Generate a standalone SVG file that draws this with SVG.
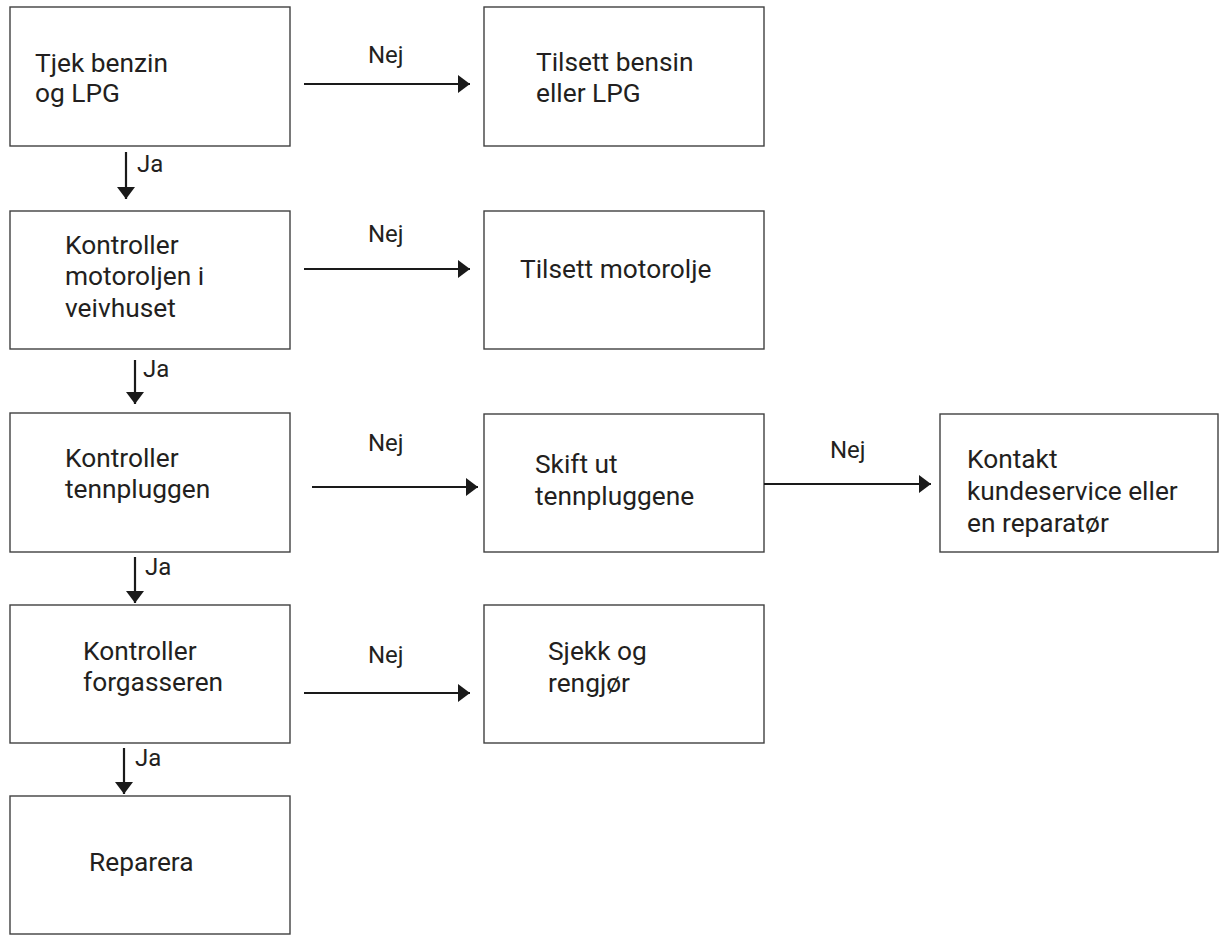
<svg xmlns="http://www.w3.org/2000/svg" width="1219" height="935" viewBox="0 0 1219 935">
<style>
.box{fill:#fff;stroke:#404040;stroke-width:1.4}
.t{font-family:Roboto,"Liberation Sans",sans-serif;font-size:26.3px;fill:#231f20}
.lbl{font-family:Roboto,"Liberation Sans",sans-serif;font-size:24px;fill:#231f20}
.ln{stroke:#1a1a1a;stroke-width:2.2;fill:none}
</style>
<defs>
<marker id="ah" markerUnits="userSpaceOnUse" markerWidth="12" markerHeight="18" refX="12" refY="9" orient="auto">
<path d="M0,0 L12,9 L0,18 Z" fill="#1a1a1a"/>
</marker>
</defs>
<rect width="1219" height="935" fill="#fff"/>
<g id="n1"><rect class="box" x="10" y="7" width="280" height="139"/><text class="t" x="35" y="72">Tjek benzin</text><text class="t" x="35" y="102">og LPG</text></g>
<g id="n2"><rect class="box" x="10" y="211" width="280" height="138"/><text class="t" x="65" y="254">Kontroller</text><text class="t" x="65" y="285">motoroljen i</text><text class="t" x="65" y="317">veivhuset</text></g>
<g id="n3"><rect class="box" x="10" y="413" width="280" height="139"/><text class="t" x="65" y="467">Kontroller</text><text class="t" x="65" y="498">tennpluggen</text></g>
<g id="n4"><rect class="box" x="10" y="605" width="280" height="138"/><text class="t" x="83" y="660">Kontroller</text><text class="t" x="83" y="691">forgasseren</text></g>
<g id="n5"><rect class="box" x="10" y="796" width="280" height="138"/><text class="t" x="89" y="871">Reparera</text></g>
<g id="r1"><rect class="box" x="484" y="7" width="280" height="139"/><text class="t" x="536" y="71">Tilsett bensin</text><text class="t" x="536" y="102">eller LPG</text></g>
<g id="r2"><rect class="box" x="484" y="211" width="280" height="138"/><text class="t" x="520" y="278">Tilsett motorolje</text></g>
<g id="r3"><rect class="box" x="484" y="414" width="280" height="138"/><text class="t" x="535" y="473">Skift ut</text><text class="t" x="535" y="505">tennpluggene</text></g>
<g id="r4"><rect class="box" x="940" y="414" width="278" height="138"/><text class="t" x="967" y="468">Kontakt</text><text class="t" x="967" y="500">kundeservice eller</text><text class="t" x="967" y="532">en reparatør</text></g>
<g id="r5"><rect class="box" x="484" y="605" width="280" height="138"/><text class="t" x="548" y="660">Sjekk og</text><text class="t" x="548" y="692">rengjør</text></g>
<g id="connectors">
<line class="ln" x1="304" y1="84" x2="470" y2="84" marker-end="url(#ah)"/>
<line class="ln" x1="304" y1="269" x2="470" y2="269" marker-end="url(#ah)"/>
<line class="ln" x1="312" y1="487" x2="478" y2="487" marker-end="url(#ah)"/>
<line class="ln" x1="764" y1="484" x2="931" y2="484" marker-end="url(#ah)"/>
<line class="ln" x1="304" y1="693" x2="470" y2="693" marker-end="url(#ah)"/>
<line class="ln" x1="126" y1="152" x2="126" y2="199" marker-end="url(#ah)"/>
<line class="ln" x1="135" y1="360" x2="135" y2="404" marker-end="url(#ah)"/>
<line class="ln" x1="135" y1="557" x2="135" y2="603" marker-end="url(#ah)"/>
<line class="ln" x1="124" y1="748" x2="124" y2="794" marker-end="url(#ah)"/>
<text class="lbl" x="368" y="63">Nej</text>
<text class="lbl" x="368" y="242">Nej</text>
<text class="lbl" x="368" y="451">Nej</text>
<text class="lbl" x="830" y="458">Nej</text>
<text class="lbl" x="368" y="663">Nej</text>
<text class="lbl" x="137" y="172">Ja</text>
<text class="lbl" x="143" y="377">Ja</text>
<text class="lbl" x="145" y="575">Ja</text>
<text class="lbl" x="135" y="766">Ja</text>
</g>
</svg>
